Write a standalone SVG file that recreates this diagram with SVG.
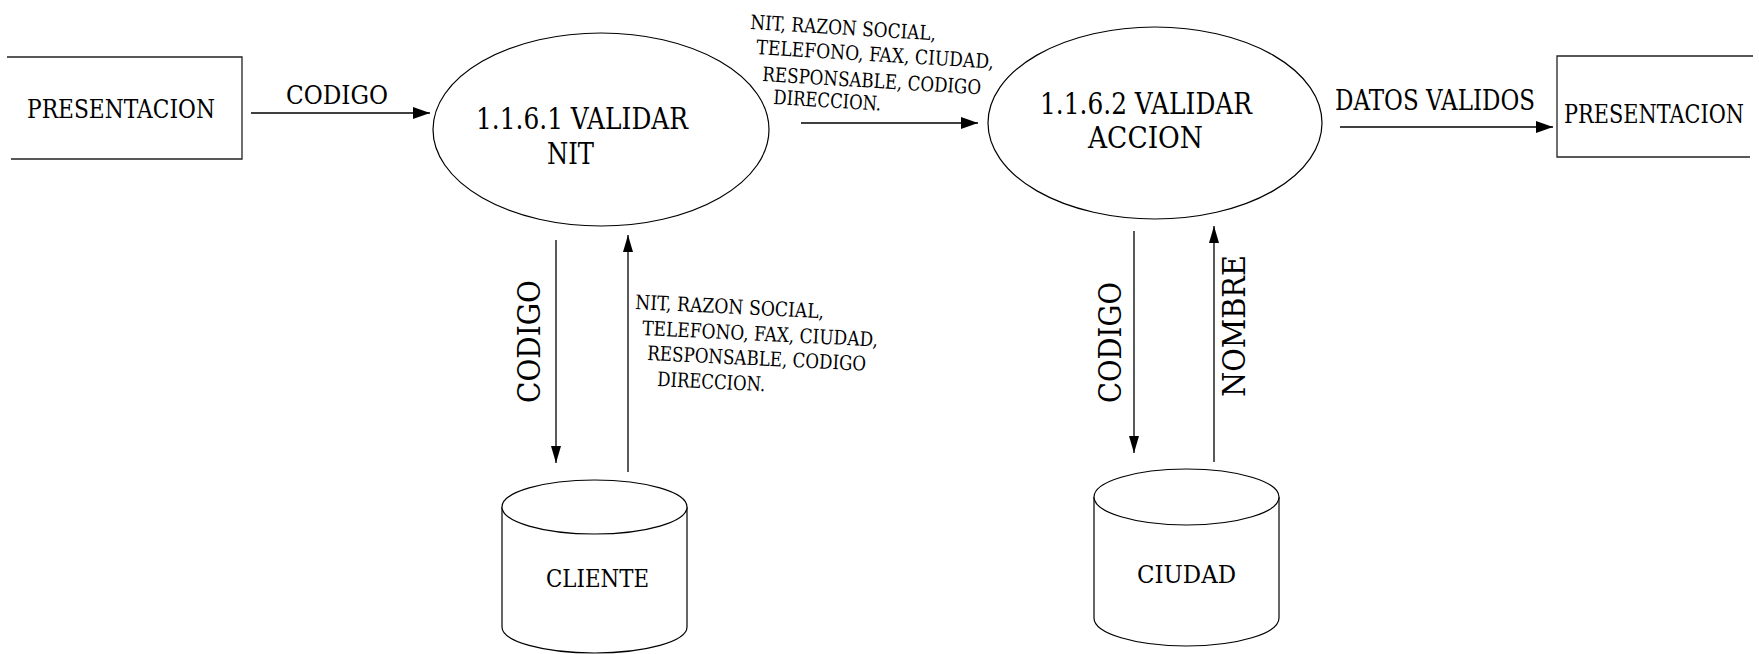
<svg xmlns="http://www.w3.org/2000/svg" width="1759" height="654" viewBox="0 0 1759 654">
<style>
  .ln { fill: none; stroke: #000; stroke-width: 1.3; }
  .bx { fill: none; stroke: #222; stroke-width: 1.3; }
  .sh { fill: #fff; stroke: #000; stroke-width: 1.2; }
  text { font-family: 'DejaVu Serif', 'Liberation Serif', serif; fill: #000; }
  .big { font-size: 30px; }
  .mid { font-size: 26px; }
  .vert { font-size: 31px; }
  .sm { font-size: 20px; }
</style>
<defs>
  <marker id="ah" markerUnits="userSpaceOnUse" markerWidth="18" markerHeight="12" refX="17" refY="6" orient="auto">
    <path d="M0,0 L17,6 L0,12 z" fill="#000"/>
  </marker>
  <marker id="av" markerUnits="userSpaceOnUse" markerWidth="18" markerHeight="10" refX="17" refY="5" orient="auto">
    <path d="M0,0 L17,5 L0,10 z" fill="#000"/>
  </marker>
</defs>
<rect width="1759" height="654" fill="#fff"/>

<g id="presentacion-left">
  <path class="bx" d="M7,57 H242 V159 H11"/>
  <text class="mid" x="27" y="118" textLength="188" lengthAdjust="spacingAndGlyphs">PRESENTACION</text>
</g>

<g id="validar-nit">
  <ellipse class="sh" cx="601" cy="129.5" rx="168" ry="96.5"/>
  <text class="big" x="476" y="129" textLength="212" lengthAdjust="spacingAndGlyphs">1.1.6.1 VALIDAR</text>
  <text class="big" x="547" y="164" textLength="47" lengthAdjust="spacingAndGlyphs">NIT</text>
</g>

<g id="validar-accion">
  <ellipse class="sh" cx="1155" cy="123" rx="167" ry="96"/>
  <text class="big" x="1040" y="114" textLength="212" lengthAdjust="spacingAndGlyphs">1.1.6.2 VALIDAR</text>
  <text class="big" x="1088" y="148" textLength="115" lengthAdjust="spacingAndGlyphs">ACCION</text>
</g>

<g id="presentacion-right">
  <path class="bx" d="M1753,56 H1557 V157 H1750"/>
  <text class="mid" x="1564" y="123" textLength="180" lengthAdjust="spacingAndGlyphs">PRESENTACION</text>
</g>

<g id="cliente">
  <path class="sh" d="M502,507 V627 A92.5,26 0 0,0 687,627 V507"/>
  <ellipse class="sh" cx="594.5" cy="507" rx="92.5" ry="27"/>
  <text font-size="25" x="546" y="587" textLength="103" lengthAdjust="spacingAndGlyphs">CLIENTE</text>
</g>

<g id="ciudad">
  <path class="sh" d="M1094,497 V618 A92.5,28 0 0,0 1279,618 V497"/>
  <ellipse class="sh" cx="1186.5" cy="497" rx="92.5" ry="28"/>
  <text font-size="25" x="1137" y="583" textLength="99" lengthAdjust="spacingAndGlyphs">CIUDAD</text>
</g>

<g id="connectors">
  <path class="ln" d="M251,113 H430" marker-end="url(#ah)"/>
  <path class="ln" d="M801,123 H978" marker-end="url(#ah)"/>
  <path class="ln" d="M1340,127 H1553" marker-end="url(#ah)"/>
  <path class="ln" d="M556,240 V463" marker-end="url(#av)"/>
  <path class="ln" d="M628,472 V235" marker-end="url(#av)"/>
  <path class="ln" d="M1134,231 V453" marker-end="url(#av)"/>
  <path class="ln" d="M1214,462 V226" marker-end="url(#av)"/>
</g>

<g id="labels">
  <text class="mid" x="286" y="104" textLength="102" lengthAdjust="spacingAndGlyphs">CODIGO</text>
  <text font-size="27" x="1335" y="110" textLength="200" lengthAdjust="spacingAndGlyphs">DATOS VALIDOS</text>

  <text class="sm" x="750" y="29" transform="rotate(3.5 750 29)" textLength="186" lengthAdjust="spacingAndGlyphs">NIT, RAZON SOCIAL,</text>
  <text class="sm" x="756" y="54" transform="rotate(3.5 756 54)" textLength="238" lengthAdjust="spacingAndGlyphs">TELEFONO, FAX, CIUDAD,</text>
  <text class="sm" x="762" y="81" transform="rotate(3.5 762 81)" textLength="219" lengthAdjust="spacingAndGlyphs">RESPONSABLE, CODIGO</text>
  <text class="sm" x="773" y="104" transform="rotate(3.5 773 104)" textLength="108" lengthAdjust="spacingAndGlyphs">DIRECCION.</text>

  <text class="sm" x="635" y="309" transform="rotate(2.8 635 309)" textLength="189" lengthAdjust="spacingAndGlyphs">NIT, RAZON SOCIAL,</text>
  <text class="sm" x="642" y="335" transform="rotate(2.8 642 335)" textLength="236" lengthAdjust="spacingAndGlyphs">TELEFONO, FAX, CIUDAD,</text>
  <text class="sm" x="647" y="360" transform="rotate(2.8 647 360)" textLength="219" lengthAdjust="spacingAndGlyphs">RESPONSABLE, CODIGO</text>
  <text class="sm" x="657" y="386" transform="rotate(2.8 657 386)" textLength="108" lengthAdjust="spacingAndGlyphs">DIRECCION.</text>

  <text class="vert" x="540" y="403" transform="rotate(-90 540 403)" textLength="123" lengthAdjust="spacingAndGlyphs">CODIGO</text>
  <text class="vert" x="1121" y="403" transform="rotate(-90 1121 403)" textLength="121" lengthAdjust="spacingAndGlyphs">CODIGO</text>
  <text class="vert" x="1245" y="397" transform="rotate(-90 1245 397)" textLength="142" lengthAdjust="spacingAndGlyphs">NOMBRE</text>
</g>
</svg>
